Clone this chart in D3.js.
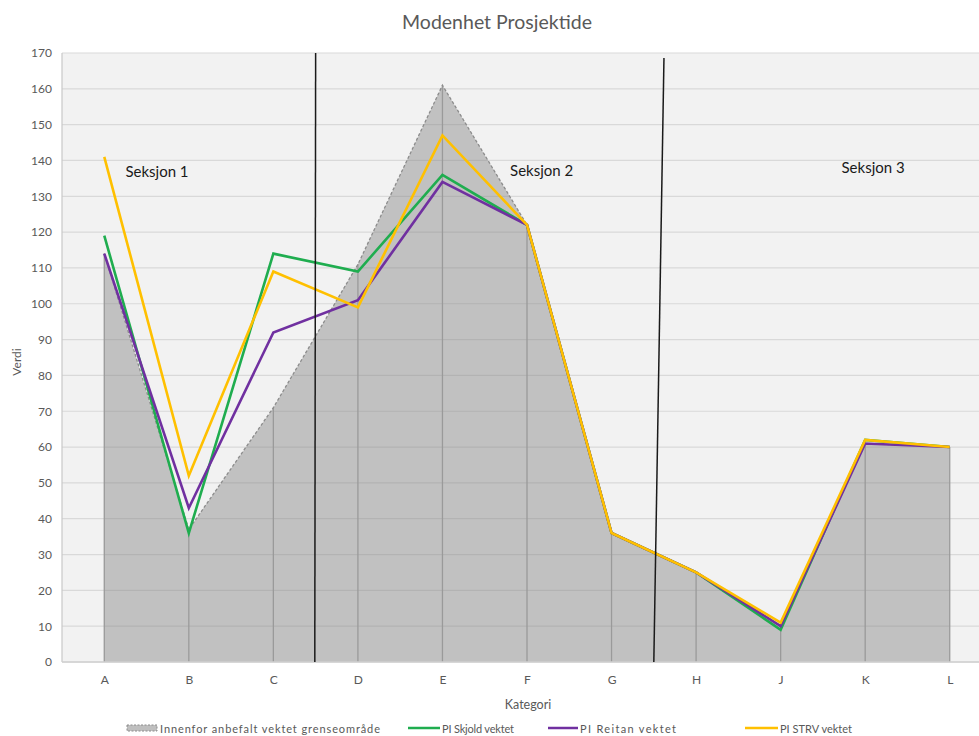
<!DOCTYPE html>
<html>
<head>
<meta charset="utf-8">
<script src="https://cdn.jsdelivr.net/npm/d3@7"></script>
<style>
  body { margin: 0; background: #fff; }
  svg { display: block; font-family: Lato, "Open Sans", sans-serif; }
</style>
</head>
<body>
<svg id="chart" width="979" height="736"></svg>
<script>
const categories = ["A","B","C","D","E","F","G","H","J","K","L"];
const areaValues   = [114, 37, 71, 111, 161, 122, 36, 25, 10, 61, 60];
const skjoldValues = [119, 36, 114, 109, 136, 122, 36, 25, 9, 62, 60];
const reitanValues = [114, 43, 92, 101, 134, 122, 36, 25, 10, 61, 60];
const strvValues   = [141, 52, 109, 99, 147, 122, 36, 25, 11, 62, 60];
const yTicks = [0,10,20,30,40,50,60,70,80,90,100,110,120,130,140,150,160,170];
const seriesNames = ["Innenfor anbefalt vektet grenseområde", "PI Skjold vektet", "PI Reitan vektet", "PI STRV vektet"];
const sectionLabels = ["Seksjon 1", "Seksjon 2", "Seksjon 3"];
const dividerCats = [[2.5, 2.49], [6.62, 6.5]];
const dividerTopValues = [170, 168.6];
const sectionLabelPos = [[0.25, 135.3], [4.8, 135.8], [8.72, 136.4]];

(function () {
const svg = d3.select("#chart");
const pLeft = 62, pRight = 992, pTop = 53, pBottom = 662;

const x = d3.scalePoint().domain(categories).range([pLeft, pRight]).padding(0.5);
const step = x.step();
const xi = i => x(categories[0]) + i * step;
const y = d3.scaleLinear().domain([0, 170]).range([pBottom, pTop]);

svg.append("rect").attr("x", pLeft).attr("y", pTop).attr("width", 979 - pLeft).attr("height", pBottom - pTop).attr("fill", "#f2f2f2");

svg.append("g").selectAll("line").data(yTicks).join("line")
  .attr("x1", pLeft).attr("x2", 979).attr("y1", d => y(d)).attr("y2", d => y(d))
  .attr("stroke", "#d9d9d9").attr("stroke-width", 1.2);

const area = d3.area().x((d, i) => x(categories[i])).y0(y(0)).y1(d => y(d));
svg.append("path").datum(areaValues).attr("d", area).attr("fill", "#7f7f7f").attr("fill-opacity", 0.42);

svg.append("g").selectAll("line").data(areaValues).join("line")
  .attr("x1", (d, i) => x(categories[i])).attr("x2", (d, i) => x(categories[i]))
  .attr("y1", d => y(d)).attr("y2", y(0))
  .attr("stroke", "#9a9a9a").attr("stroke-width", 1.3);

const outline = d3.line().x((d, i) => x(categories[i])).y(d => y(d));
svg.append("path").datum(areaValues).attr("d", outline).attr("fill", "none")
  .attr("stroke", "#8c8c8c").attr("stroke-width", 1.3).attr("stroke-dasharray", "3,2");

svg.append("line").attr("x1", pLeft).attr("x2", pLeft).attr("y1", pTop).attr("y2", pBottom).attr("stroke", "#c8c8c8").attr("stroke-width", 1.2);
svg.append("line").attr("x1", pLeft).attr("x2", 979).attr("y1", pBottom).attr("y2", pBottom).attr("stroke", "#d0d0d0").attr("stroke-width", 1.5);

const line = d3.line().x((d, i) => x(categories[i])).y(d => y(d));
const series = [
  {vals: skjoldValues, color: "#1fad4f"},
  {vals: reitanValues, color: "#7030a0"},
  {vals: strvValues, color: "#ffc000"}
];
svg.append("g").selectAll("path").data(series).join("path")
  .attr("d", d => line(d.vals)).attr("fill", "none")
  .attr("stroke", d => d.color).attr("stroke-width", 2.6).attr("stroke-linejoin", "miter");

svg.append("g").selectAll("line").data(dividerCats).join("line")
  .attr("x1", d => xi(d[0])).attr("x2", d => xi(d[1]))
  .attr("y1", (d, i) => y(dividerTopValues[i])).attr("y2", y(0))
  .attr("stroke", "#1a1a1a").attr("stroke-width", 1.5);

svg.append("g").selectAll("text").data(sectionLabels).join("text")
  .attr("x", (d, i) => xi(sectionLabelPos[i][0])).attr("y", (d, i) => y(sectionLabelPos[i][1]))
  .attr("font-size", 15).attr("fill", "#1a1a1a").text(d => d);

const yAxis = svg.append("g").attr("transform", `translate(${pLeft},0)`)
  .call(d3.axisLeft(y).tickValues(yTicks).tickSize(0).tickPadding(10));
yAxis.select(".domain").remove();
yAxis.selectAll("text").attr("fill", "#595959").attr("font-size", 12).attr("font-family", "Lato, sans-serif");

const xAxis = svg.append("g").attr("transform", `translate(0,${pBottom})`)
  .call(d3.axisBottom(x).tickSize(0).tickPadding(13));
xAxis.select(".domain").remove();
xAxis.selectAll("text").attr("fill", "#595959").attr("font-size", 12).attr("font-family", "Lato, sans-serif");

svg.append("text").attr("x", 497).attr("y", 29).attr("text-anchor", "middle")
  .attr("font-size", 19.5).attr("fill", "#595959").text("Modenhet Prosjektide");

svg.append("text").attr("transform", "translate(21,362) rotate(-90)").attr("text-anchor", "middle")
  .attr("font-size", 12).attr("fill", "#595959").text("Verdi");
svg.append("text").attr("x", 528).attr("y", 709).attr("text-anchor", "middle")
  .attr("font-size", 12.5).attr("fill", "#595959").text("Kategori");

const legendY = 729;
const lg = svg.append("g");
const legendItems = [
  {name: seriesNames[0], x0: 127, x1: 157, color: "#8c8c8c", dash: true, tx: 160, w: 220},
  {name: seriesNames[1], x0: 408, x1: 440, color: "#1fad4f", tx: 442, w: 72},
  {name: seriesNames[2], x0: 548, x1: 578, color: "#7030a0", tx: 580, w: 96},
  {name: seriesNames[3], x0: 745, x1: 778, color: "#ffc000", tx: 780, w: 72}
];
legendItems.forEach(it => {
  if (it.dash) {
    lg.append("rect").attr("x", it.x0).attr("y", legendY - 4).attr("width", it.x1 - it.x0).attr("height", 6)
      .attr("fill", "#bfbfbf").attr("stroke", "#8c8c8c").attr("stroke-width", 1).attr("stroke-dasharray", "2,1.5");
  } else {
    lg.append("line").attr("x1", it.x0).attr("x2", it.x1).attr("y1", legendY - 1).attr("y2", legendY - 1)
      .attr("stroke", it.color).attr("stroke-width", 2.5);
  }
  lg.append("text").attr("x", it.tx).attr("y", legendY + 3.5).attr("font-size", 11).attr("fill", "#595959")
    .attr("textLength", it.w).attr("lengthAdjust", "spacing").text(it.name);
});
})();
</script>
</body>
</html>
